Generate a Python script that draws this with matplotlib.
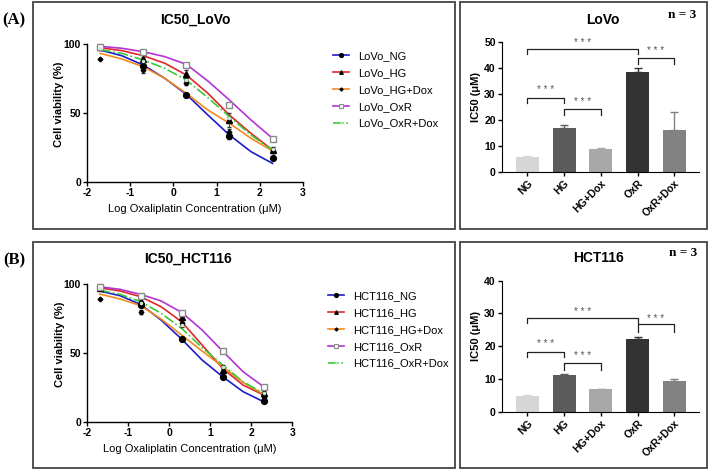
#!/usr/bin/env python3

import matplotlib.pyplot as plt
from matplotlib.patches import Rectangle
plt.switch_backend('agg')

plt.rcParams['font.family'] = ['Liberation Sans', 'DejaVu Sans']
plt.rcParams['axes.unicode_minus'] = False

# ---- dose response data (log concentration) ----
log_conc = [-1.7, -0.7, 0.3, 1.3, 2.3]
fit_x = [-1.7, -1.2, -0.7, -0.2, 0.3, 0.8, 1.3, 1.8, 2.3]
groups = ['NG', 'HG', 'HG+Dox', 'OxR', 'OxR+Dox']

lovo_pts = {
    'NG':      [98, 84, 63, 33, 17],
    'HG':      [98, 89, 78, 45, 23],
    'HG+Dox':  [89, 81, 72, 36, 22],
    'OxR':     [98, 94, 85, 56, 31],
    'OxR+Dox': [97, 88, 74, 46, 24],
}
lovo_err = {
    'NG':      [0, 1.5, 1, 2, 1],
    'HG':      [0, 1.5, 3, 5, 1.5],
    'HG+Dox':  [0, 2, 1.5, 2, 1],
    'OxR':     [0, 1, 1, 1, 1],
    'OxR+Dox': [0, 1, 1, 1, 1],
}
lovo_fit = {
    'NG':      [95.6, 91.5, 84.7, 75.0, 63.4, 48.4, 33.9, 21.8, 13.3],
    'HG':      [97.3, 95.2, 91.5, 86.0, 77.5, 64.2, 48.4, 35.1, 23.0],
    'HG+Dox':  [93.2, 89.1, 83.5, 75.0, 64.2, 52.0, 42.4, 31.5, 22.3],
    'OxR':     [98.3, 96.9, 94.4, 90.8, 85.2, 73.1, 59.3, 44.8, 31.5],
    'OxR+Dox': [95.9, 93.2, 88.4, 82.3, 73.8, 61.0, 47.2, 33.9, 23.0],
}

hct_pts = {
    'NG':      [98, 85, 60, 32.7, 15],
    'HG':      [97, 87.6, 76, 37.5, 20.6],
    'HG+Dox':  [89, 79.4, 71.4, 36.3, 18],
    'OxR':     [98, 91.5, 79, 51.3, 25.2],
    'OxR+Dox': [97, 86, 70, 40, 21],
}
hct_err = {
    'NG':      [0, 1, 1.5, 1, 1],
    'HG':      [0, 2, 2, 1.5, 1],
    'HG+Dox':  [0, 1.5, 1, 1, 1],
    'OxR':     [0, 1, 1, 1, 1],
    'OxR+Dox': [0, 1, 1, 1, 1],
}
hct_fit = {
    'NG':      [94.9, 91.5, 85.2, 73.8, 60.0, 44.8, 32.7, 21.8, 14.5],
    'HG':      [97.3, 94.9, 90.8, 83.5, 72.6, 55.7, 38.7, 26.6, 19.4],
    'HG+Dox':  [92.7, 89.1, 84.3, 74.6, 63.0, 51.3, 40.0, 28.6, 19.9],
    'OxR':     [98.0, 96.1, 92.5, 87.7, 79.4, 66.6, 51.3, 36.3, 25.4],
    'OxR+Dox': [95.6, 92.5, 87.2, 78.7, 67.8, 53.8, 41.2, 29.0, 20.6],
}

# ---- IC50 bar data ----
lovo_ic50 = [5.8, 16.9, 8.9, 38.5, 16.3]
lovo_ic50_err = [0.4, 1.2, 0.5, 1.8, 6.8]
hct_ic50 = [4.8, 11.1, 6.8, 22.1, 9.3]
hct_ic50_err = [0.2, 0.5, 0.2, 0.8, 0.6]

# significance brackets: (left bar, right bar, line height, leg bottom, star height)
lovo_sig = [(0, 3, 47.5, 45.5, 49.8), (3, 4, 44.0, 41.7, 46.6),
            (0, 1, 28.7, 26.5, 31.6), (1, 2, 24.4, 22.0, 27.2)]
hct_sig = [(0, 3, 28.7, 27.0, 30.5), (3, 4, 26.7, 24.4, 28.4),
           (0, 1, 18.3, 16.6, 20.7), (1, 2, 14.8, 12.7, 17.0)]

line_col = {'NG': '#1c1cc8', 'HG': '#e0262a', 'HG+Dox': '#f28a1e',
            'OxR': '#b234d6', 'OxR+Dox': '#3cc83c'}
line_sty = {'NG': '-', 'HG': '-', 'HG+Dox': '-', 'OxR': '-', 'OxR+Dox': '-.'}
mk = {'NG': 'o', 'HG': '^', 'HG+Dox': 'D', 'OxR': 's', 'OxR+Dox': '.'}
mk_size = {'NG': 4.2, 'HG': 3.8, 'HG+Dox': 2.4, 'OxR': 4.8, 'OxR+Dox': 3}
mk_face = {'NG': 'black', 'HG': 'black', 'HG+Dox': 'black',
           'OxR': 'white', 'OxR+Dox': '#cfe8cf'}
mk_edge = {'NG': 'black', 'HG': 'black', 'HG+Dox': 'black',
           'OxR': '#8a8a8a', 'OxR+Dox': '#cfe8cf'}
bar_col = ['#d6d6d6', '#5c5c5c', '#a8a8a8', '#333333', '#828282']

W, H = 709, 471
fig = plt.figure(figsize=(7.09, 4.71), dpi=100)


def fx(px):
    return px / W


def fy(py):
    return 1 - py / H


# panel frames
for x0, y0, x1, y1 in [(33, 2, 455, 228.5), (459.5, 2, 707, 228.5),
                       (33, 241.5, 455, 468), (459.5, 241.5, 707, 468)]:
    fig.patches.append(Rectangle((fx(x0), fy(y1)), fx(x1 - x0), (y1 - y0) / H,
                                 transform=fig.transFigure, fill=False,
                                 edgecolor='#444444', linewidth=1.3))


def curve_panel(rect, pts, err, fit, prefix, title, title_xy, leg_xy):
    ax = fig.add_axes(rect)
    handles = []
    for g in groups:
        ax.plot(fit_x, fit[g], color=line_col[g], ls=line_sty[g],
                lw=1.2, clip_on=False)
        ax.errorbar(log_conc, pts[g], yerr=err[g], fmt='none',
                    ecolor='#333333', elinewidth=0.6, capsize=1.5,
                    clip_on=False)
        ax.plot(log_conc, pts[g], ls='none', marker=mk[g], ms=mk_size[g],
                mfc=mk_face[g], mec=mk_edge[g], mew=1, clip_on=False, zorder=4)
        h, = ax.plot([], [], color=line_col[g], ls=line_sty[g], lw=1.2,
                     marker=mk[g], ms=mk_size[g] * 0.7, mfc=mk_face[g],
                     mec=mk_edge[g], mew=0.8)
        handles.append(h)
    ax.set_xlim(-2, 3)
    ax.set_ylim(0, 100)
    ax.set_xticks([-2, -1, 0, 1, 2, 3])
    ax.set_yticks([0, 50, 100])
    for s in ['top', 'right']:
        ax.spines[s].set_visible(False)
    for s in ['left', 'bottom']:
        ax.spines[s].set_linewidth(1.0)
    ax.tick_params(direction='out', length=3, width=1, labelsize=7.5, pad=1.5)
    for lab in ax.get_xticklabels() + ax.get_yticklabels():
        lab.set_fontweight('bold')
    ax.set_xlabel('Log Oxaliplatin Concentration (μM)', fontsize=8, labelpad=4)
    ax.set_ylabel('Cell viability (%)', fontsize=8, fontweight='bold')
    ax.yaxis.set_label_coords(-0.11, 0.56)
    fig.text(fx(title_xy[0]), fy(title_xy[1]), title, fontsize=10,
             fontweight='bold', ha='center', va='center')
    fig.legend(handles, [prefix + '_' + g for g in groups],
               loc='upper left', bbox_to_anchor=(fx(leg_xy[0]), fy(leg_xy[1])),
               frameon=False, fontsize=8, handlelength=1.4, handletextpad=0.9,
               labelspacing=0.62, borderpad=0, borderaxespad=0)
    return ax


def bar_panel(rect, vals, errs, sig, ymax, title, title_xy, n_xy):
    ax = fig.add_axes(rect)
    xs = list(range(len(groups)))
    ax.bar(xs, vals, width=0.63, color=bar_col, zorder=2)
    for x, v, e, c in zip(xs, vals, errs, bar_col):
        ax.errorbar([x], [v], yerr=[[0], [e]], fmt='none', ecolor=c,
                    elinewidth=1, capsize=3, capthick=1, zorder=1)
    for a, b, yl, yb, ys in sig:
        ax.plot([a, a, b, b], [yb, yl, yl, yb], color='#222222', lw=0.9,
                clip_on=False)
        ax.text((a + b) / 2, ys, '* * *', fontsize=7, color='#555555',
                ha='center', va='center')
    ax.set_xlim(-0.69, 4.67)
    ax.set_ylim(0, ymax)
    ax.set_yticks(range(0, ymax + 1, 10))
    ax.set_xticks(xs)
    ax.set_xticklabels(groups, rotation=45, ha='right', rotation_mode='anchor')
    for s in ['top', 'right']:
        ax.spines[s].set_visible(False)
    ax.tick_params(direction='out', length=3, width=1, labelsize=7.5, pad=1.5)
    for lab in ax.get_xticklabels() + ax.get_yticklabels():
        lab.set_fontweight('bold')
    ax.set_ylabel('IC50 (μM)', fontsize=8, fontweight='bold')
    ax.yaxis.set_label_coords(-0.105, 0.58)
    fig.text(fx(title_xy[0]), fy(title_xy[1]), title, fontsize=10,
             fontweight='bold', ha='center', va='center')
    fig.text(fx(n_xy[0]), fy(n_xy[1]), 'n = 3', fontsize=9.5,
             fontweight='bold', family='Liberation Serif',
             ha='center', va='center')
    return ax


curve_panel([fx(87.3), fy(181.7), fx(302.7 - 87.3), (181.7 - 44) / H],
            lovo_pts, lovo_err, lovo_fit, 'LoVo', 'IC50_LoVo',
            (195, 20), (333, 51))
curve_panel([fx(87.3), fy(421.7), fx(292.3 - 87.3), (421.7 - 284) / H],
            hct_pts, hct_err, hct_fit, 'HCT116', 'IC50_HCT116',
            (188, 259), (328, 291))

bar_panel([fx(502), fy(172.3), fx(699 - 502), (172.3 - 42.3) / H],
          lovo_ic50, lovo_ic50_err, lovo_sig, 50, 'LoVo', (603, 20), (682, 15))
bar_panel([fx(502), fy(411.7), fx(699 - 502), (411.7 - 280.7) / H],
          hct_ic50, hct_ic50_err, hct_sig, 40, 'HCT116', (598, 258), (683, 253))

fig.text(fx(14), fy(20), '(A)', fontsize=12, fontweight='bold',
         family='Liberation Serif', ha='center', va='center')
fig.text(fx(14), fy(260), '(B)', fontsize=12, fontweight='bold',
         family='Liberation Serif', ha='center', va='center')

fig.savefig('out.png', dpi=100)
